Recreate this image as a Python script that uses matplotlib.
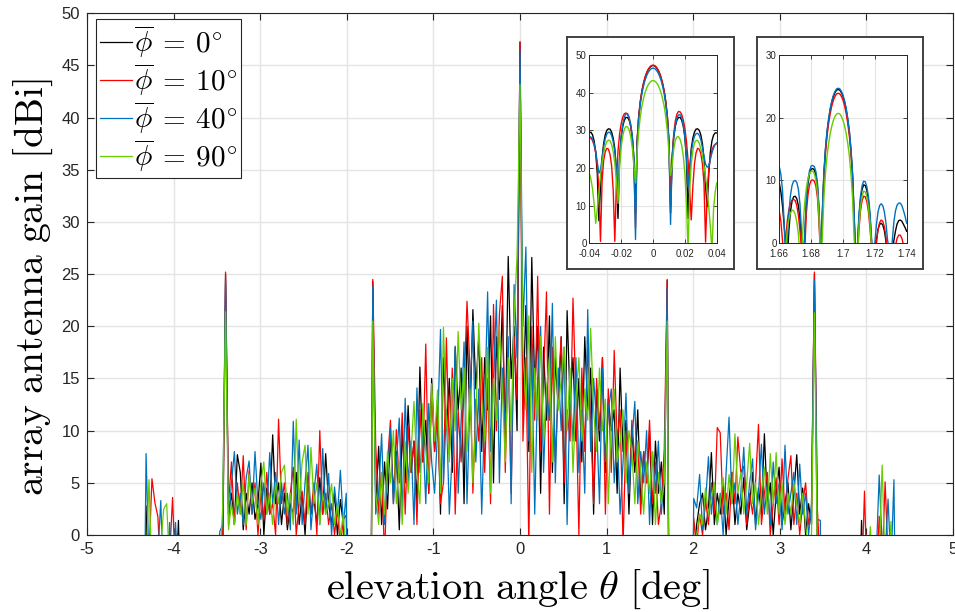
import numpy as np
import matplotlib
matplotlib.use("Agg")
import matplotlib.pyplot as plt

plt.rcParams['mathtext.fontset'] = 'cm'
plt.rcParams['font.family'] = ['Liberation Sans', 'DejaVu Sans']
plt.rcParams['axes.unicode_minus'] = False

# ---------------- data ----------------
series_labels = [r'$\overline{\phi}\:=\:0^{\circ}$', r'$\overline{\phi}\:=\:10^{\circ}$',
                 r'$\overline{\phi}\:=\:40^{\circ}$', r'$\overline{\phi}\:=\:90^{\circ}$']
series_colors = ['#000000', '#FF0000', '#0072BD', '#66CC00']

# main chart: elevation angle samples (deg)
theta_main = np.arange(-128, 129) * 0.034

gain_phi0 = [
    -30, 2.8, -8, -20, -15, -10, -12, -20, -15, -10, -8, -6, 1.4, -10,
    -30, -30, -30, -30, -30, -30, -30, -30, -30, -30, -30, -30,
    -9, -3, 25.0, 2, 4, 1, 7.7, 6.0, 0.5, 4, 2, 5, 1.5, 3, 6.9, 0, 4.5, 2, 9.6, 3,
    5, 1, 4, 0.5, 3, 2, 6, 1, 4, 0, 5, 2, 3.5, 1, 5.5, 2, 7.8, 3, 1, 4, 0, 3.4, 1, -4,
    -30, -30, -30, -30, -30, -30, -30, -30,
    24.3, 3, 8.5, 1, 7, 2.5, 9.5, 4, 8, 0.5,
    10, 5, 12.4, 6, 9, 3, 16.1, 7, 11, 4,
    15, 8, 13, 2, 17, 10, 15, 6, 18, 12,
    16, 3, 20, 11, 21.6, 14, 19, 8, 17, 12,
    21, 5, 19, 13, 22, 9, 26.7, 15, 20, 10,
    47.2,
    12, 22, 8, 26.6, 14, 20, 4, 18, 11, 21,
    6, 17, 12, 19, 3, 21.5, 13, 17, 9, 15,
    7, 19, 12, 16, 2, 14, 9, 17, 6, 13,
    10, 12, 4, 16, 8, 11, 2, 10, 6, 12,
    3, 8, 5, 10, 1, 9, 4, 7, 2, 24.4,
    -30, -30, -30, -30, -30, -30, -30, -30,
    -3, 1, 3, 4.0, 0.5, 2.5, 7.9, 1, 4, 2, 5, 0, 3.5, 6, 1, 4, 2, 5.5, 0.5, 3,
    6, 1, 4.5, 2, 9.7, 3, 5, 0, 4, 6.5, 1, 3, 5, 0.5, 4, 7.7, 2, 4.5, 0, 3, 1, 25.0, -2, -6,
    -30, -30, -30, -30, -30, -30, -30, -30, -30, -30, -30, -30,
    -10, 1.4, -8, -12, -20, -15, -10, -8, -12, -15, -10, -14, -18, -30,
]

gain_phi10 = [
    -25, -6, -2, 5.4, 3.1, 1.8, -4, -7, -3, -2, 3.6, -4, -8, -12,
    -30, -30, -30, -30, -30, -30, -30, -30, -30, -30, -30, -30,
    -9, -2, 25.2, 3, 7.0, 1, 5, 2, 7.6, 0.5, 6.2, 2, 5, 0, 4, 1.5, 6, 2, 3, 0,
    11.1, 3, 5, 1, 4, 6.5, 0, 3, 4.2, 1, 6, 2, 5, 0, 10.0, 2, 4, 1, 3, 0, 2.5, -1, 1.5, 1.9,
    -30, -30, -30, -30, -30, -30, -30, -30,
    24.5, 8.6, 2, 6, -2, 7, 11.0, 3, 10.1, 5,
    11.7, 2, 10.5, 6, 9, 1, 12, 7, 18.3, 4,
    14, 8, 12, 3, 5, 18.9, 8, 16, 2, 12,
    7, 14, 22.4, 16, 4, 13, 9, 17, 6, 15,
    3, 22.1, 10, 21.1, 24.8, 6, 18, 4, 19, 13,
    47.3,
    9, 17, -1, 20, 11, 24.8, 8, 15, 23.3, 2,
    18, 7, 14, 19, 5, 12, 9, 22.7, 13, 0,
    16, 8, 18, 11, 3, 15, 10, 17, 2, 14,
    6, 17.7, 9, 12, -1, 10, 4, 11, 7, 9,
    2, 8, 5, 11.0, 3, 7, 1, 3, 8.3, 24.5,
    -30, -30, -30, -30, -30, -30, -30, -30,
    1.6, -1, 2, 0, 3.5, 1, 5, 2, 10.3, 9.8, 2, 4, 0.5, 6, 3, 9.4, 6.0, 6.6, 1, 4,
    2, 5, 10.6, 1, 4, 6, 0, 3, 5.5, 1, 7.3, 2, 5.4, 7.6, 1, 4, 0, 3, 5, 1, 2.6, 25.2, 2.5, -3,
    -30, -30, -30, -30, -30, -30, -30, -30, -30, -30, -30, -30,
    -12, -5, 4.2, -6, -8, -5, -4, 1.8, -3, 5.1, -2, -6, -10, -25,
]

gain_phi40 = [
    -20, 7.8, -3, -8, -5, -2, 3.3, -6, -4, 1.2, -5, 1.2, -4, -12,
    -30, -30, -30, -30, -30, -30, -30, -30, -30, -30, -30, -30,
    0.3, 1, 24.4, 1, 5, 8.0, 2, 4, 1, 5.5, 7.1, 2, 8.0, 3, 1.5, 5, 2, 7.9, 3, 6,
    1, 5, 2, 4, 0.5, 10.9, 2, 9.1, 1, 5, 8.6, 0.5, 4, 6.8, 1, 8.3, 2, 5.9, 0, 4.6, 2, 6.2, 1, 4.0,
    -30, -30, -30, -30, -30, -30, -30, -30,
    23.8, 2, 4, 9.7, 1, 6, 10.2, 3, 7, 11.2,
    2, 13.1, 5, 9, 1, 14.1, 6, 10, 3, 12.6,
    7, 4, 10, 19.7, 5, 12, 2, 8, 18.1, 4,
    11, 18.5, 3, 13, 20.5, 7, 14, 2, 12, 23.3,
    8, 15, 22.5, 5, 16, 10, 19, 3, 24, 17,
    46.5,
    20, 27.6, 9, 18, 2, 15, 20, 6, 14, 11,
    22.2, 5, 16, 10, 18, 1, 14, 9, 17, 6,
    12, 4, 21.6, 8, 15, 11, 3, 16, 7, 12,
    14, 5, 10, 2, 7, 13.6, 4, 9, 12.8, 3,
    8, 5, 10, 1, 8, 4, 9, 2, 6, 23.7,
    -30, -30, -30, -30, -30, -30, -30, -30,
    3.5, 2.6, 5.8, 0.5, 3, 7.5, 2, 5, 1, 4, 0, 6, 11.3, 3, 5, 1, 4, 8.4, 2, 5,
    7.3, 0.5, 4, 8.7, 2, 5, 1, 7.0, 3, 5, 0.5, 8.6, 2, 4, 6, 1, 6.8, 2, 4, 0, 3, 24.4, 1.5, 1.4,
    -30, -30, -30, -30, -30, -30, -30, -30, -30, -30, -30, -30,
    -14, -6, -4, -8, -6, -3, -2, 5.75, -1, -2, 3.45, -3, 5.3, -20,
]

gain_phi90 = [
    -25, -3, 5.3, -4, -6, -2, -1, 2.5, 3.0, -3, -8, -5, -10, -15,
    -30, -30, -30, -30, -30, -30, -30, -30, -30, -30, -30, -30,
    -3, 2.5, 21.4, 0.5, 3, 1, 4, 2, 5, 1, 5.8, 3, 4.5, 1, 5, 7.0, 2, 4, 1, 5,
    3, 6, 6.7, 2, 4, 1, 11.1, 3, 7, 8.6, 2, 8.4, 3, 5, 1, 4, 2, 3, 4.9, 1, 3, 0, 2, -3,
    -30, -30, -30, -30, -30, -30, -30, -30,
    20.5, 4, 1, 6, 2, 8, 5, 10, 3, 7,
    1, 9, 4, 8, 12.8, 6, 3, 12.6, 8, 5,
    14.5, 9, 13.9, 4, 19.9, 11, 7, 15, 10, 19.5,
    12, 16, 8, 14, 5, 11, 20.3, 13, 9, 18,
    4, 15, 11, 20, 14, 7, 17, 10, 21, 26.8,
    43.2,
    18, 12, 21, 6, 16, 11, 19, 9, 14, 17,
    7, 19, 12, 15, 18, 10, 16, 6, 13, 17,
    9, 14, 11, 19.8, 12, 8, 16, 10, 13, 3,
    11, 14, 7, 9, 12, 5, 10, 8, 3, 9,
    6, 2, 7, 4, 8, 1, 6, 3, 5, 20.5,
    -30, -30, -30, -30, -30, -30, -30, -30,
    -3, 0, 2, 1, 4.5, 2, 3.5, 5, 1, 3, 5.5, 2, 5.8, 3, 9.7, 4, 6, 2, 5, 8.8,
    3, 5, 1, 4, 6.5, 2, 7.8, 3, 7.9, 2, 5, 1, 4, 2, 5, 3, 1, 4.0, 1, -2, 0, 21.3, -2, -8,
    -30, -30, -30, -30, -30, -30, -30, -30, -30, -30, -30, -30,
    -15, -10, -6, -3, 0.8, -5, -4, -2, 6.7, -3, -4, 1.3, -5, -25,
]

# inset 1: zoom around 0 deg
theta_zoom0 = np.linspace(-0.04, 0.04, 81)
zoom0_phi0 = [
    29.3, 29.5, 28.8, 27.2, 24.2, 18.5, 6, 15, 22.5, 26.5,
    28.8, 30.0, 30.4, 30.3, 29.5, 27.9, 25.1, 19.5, 6.6, 22.5,
    28.2, 31.1, 32.7, 33.4, 33.4, 32.7, 31.1, 28.2, 22.5, 8,
    27.1, 33.7, 37.6, 40.4, 42.4, 44.0, 45.2, 46.1, 46.7, 47.1,
    47.2,
    47.1, 46.7, 46.1, 45.2, 44.0, 42.4, 40.4, 37.6, 33.7, 27.1,
    8, 22.5, 28.2, 31.1, 32.7, 33.4, 33.4, 32.7, 31.1, 28.2,
    22.5, 6.6, 19.5, 25.1, 27.9, 29.5, 30.3, 30.4, 30.0, 28.8,
    26.5, 22.5, 15, 9.7, 18.5, 24.2, 27.2, 28.7, 29.3, 29.3,
]
zoom0_phi10 = [
    28.0, 27.9, 27.3, 26.0, 24.0, 20.5, 14, 0.5, 16.5, 22,
    24.3, 25.2, 25.0, 23.6, 20.5, 14, 0.5, 16, 24.5, 29,
    31.8, 33.5, 34.4, 34.6, 34.3, 33.2, 31, 27.5, 21, 4,
    27, 33.7, 37.6, 40.4, 42.5, 44.1, 45.3, 46.2, 46.8, 47.2,
    47.3,
    47.2, 46.8, 46.2, 45.3, 44.1, 42.5, 40.4, 37.6, 33.7, 27,
    10, 23, 29, 32.5, 34.3, 35.0, 34.9, 34.2, 32.7, 30.5,
    27, 22, 14, 6.2, 15, 21, 24, 25.2, 25.0, 23.8,
    21.2, 16, 0.3, 13, 19.5, 22.8, 24.7, 25.8, 26.3, 26.4,
]
zoom0_phi40 = [
    28.3, 28.2, 27.7, 26.5, 24.5, 21.5, 18.6, 19.5, 22.5, 25.6,
    27.8, 29.0, 29.5, 29.4, 28.6, 27.0, 24.3, 19.5, 14, 22.5,
    28.3, 31.6, 33.5, 34.4, 34.4, 33.5, 31.6, 28.3, 22.5, 1,
    26.5, 33.0, 36.9, 39.7, 41.7, 43.3, 44.5, 45.4, 46.0, 46.4,
    46.5,
    46.4, 46.0, 45.4, 44.5, 43.3, 41.7, 39.7, 36.9, 33.0, 26.5,
    5, 22.5, 28.2, 31.4, 33.3, 34.1, 34.1, 33.3, 31.4, 28.2,
    22.5, 15, 19.5, 24.2, 26.8, 28.4, 29.1, 29.2, 28.7, 27.5,
    25.5, 23, 21, 20.2, 20.5, 22.3, 24, 25.3, 26.2, 26.7,
]
zoom0_phi90 = [
    18.6, 17, 14.5, 10.5, 5.3, 9, 13.5, 17.8, 21.3, 24.0,
    25.9, 27.0, 27.4, 27.2, 26.2, 24.3, 21.3, 16.5, 10.6, 20.5,
    25.6, 28.6, 30.3, 31.0, 30.9, 30.1, 28.3, 25.3, 20.5, 16,
    24, 29.8, 33.6, 36.4, 38.4, 40.0, 41.2, 42.1, 42.7, 43.1,
    43.2,
    43.1, 42.7, 42.1, 41.2, 40.0, 38.4, 36.4, 33.6, 29.8, 24,
    18, 20.5, 25, 27.3, 28.2, 28.3, 27.6, 26, 23.2, 18.5,
    10.5, -2, 14, 21, 24.6, 26.6, 27.3, 27.3, 26.6, 25.2,
    23.2, 20.6, 17.5, 13.8, 9.5, 4.5, -2, 9, 13.5, 16,
]

# inset 2: zoom around 1.7 deg
theta_zoom17 = np.linspace(1.66, 1.74, 81)
zoom17_phi0 = [
    9.6, 8.2, 6, 3, 0, -3, 2, 5, 6.7, 7.4,
    7.5, 7.1, 6, 3.8, 0, -3, 1, 6.6, 9.5, 11.1,
    11.8, 11.9, 11.7, 10.9, 9.0, 5, -3, 4.5, 11.0, 14.9,
    17.7, 19.7, 21.3, 22.5, 23.4, 24.0, 24.4, 24.5, 24.4, 24.0,
    23.4, 22.5, 21.3, 19.7, 17.7, 14.9, 11.0, 4.5, -3, -1,
    4, 7, 8.6, 9.3, 9.2, 8.4, 6.8, 4.2, 0, -3,
    -2, 0.5, 2.2, 3.0, 3.2, 2.9, 2.0, 0.3, -3, -3,
    -3, -1, 0.5, 2, 3.1, 3.6, 3.7, 3.5, 3.0, 2.5,
    1.9,
]
zoom17_phi10 = [
    5.1, 3.5, 0.5, -3, 0.5, 3.5, 5.3, 6.3, 6.9, 7.0,
    6.8, 6.0, 4.5, 2, -1, -3, -1, 4.8, 7.7, 9.3,
    10.0, 10.1, 9.9, 9.1, 7.2, 3, -3, 3.9, 10.4, 14.3,
    17.1, 19.1, 20.7, 21.9, 22.8, 23.4, 23.8, 23.9, 23.8, 23.4,
    22.8, 21.9, 20.7, 19.1, 17.1, 14.3, 10.4, 3.9, -3, -3,
    2, 5.2, 6.8, 7.5, 7.4, 6.6, 5.0, 2.3, -1, -3,
    -3, 0, 2.2, 3.3, 3.7, 3.5, 2.6, 1, -2, -3,
    -3, -3, -2, -0.3, 0.8, 1.3, 1.3, 0.8, -0.3, -2,
    -3,
]
zoom17_phi40 = [
    12.2, 11.0, 8.5, 3.5, -3, 0, 4.7, 7.6, 9.2, 9.9,
    10.0, 9.7, 8.6, 6.2, 1.5, -3, 1.4, 7.1, 10.0, 11.6,
    12.3, 12.4, 12.2, 11.4, 9.5, 5.5, -3, 4.7, 11.2, 15.1,
    17.9, 19.9, 21.5, 22.7, 23.6, 24.2, 24.6, 24.7, 24.6, 24.2,
    23.6, 22.7, 21.5, 19.9, 17.9, 15.1, 11.2, 4.7, -3, -1,
    4.5, 7.5, 9.2, 9.9, 9.8, 9.0, 7.4, 4.8, 0.5, -3,
    0, 3, 5, 6.0, 6.3, 6.0, 5.0, 3.2, 0.5, -1,
    -3, 0.5, 3.5, 5.2, 6.1, 6.4, 6.4, 6.0, 5.2, 4.3,
    3.2,
]
zoom17_phi90 = [
    -3, -3, -3, -3, -1, 2, 3.8, 4.8, 5.3, 5.2,
    4.6, 3.4, 1.5, -2, -2, 3, 6.5, 8.8, 10.3, 11.1,
    11.5, 11.5, 11.1, 10.0, 8, 4, -3, 0.7, 7.2, 11.1,
    13.9, 15.9, 17.5, 18.7, 19.6, 20.2, 20.6, 20.7, 20.6, 20.2,
    19.6, 18.7, 17.5, 15.9, 13.9, 11.1, 7.2, 0.7, -3, -3,
    2.5, 5.8, 7.5, 8.3, 8.2, 7.4, 5.7, 3, -1, -3,
    -3, -3, -3, -3, -3, -3, -3, -3, -3, -3,
    -3, -3, -3, -3, -3, -3, -3, -3, -3, -3,
    -3,
]

main_xticks = [-5, -4, -3, -2, -1, 0, 1, 2, 3, 4, 5]
main_yticks = [0, 5, 10, 15, 20, 25, 30, 35, 40, 45, 50]
zoom0_xticks = [-0.04, -0.02, 0, 0.02, 0.04]
zoom0_xticklabels = ['-0.04', '-0.02', '0', '0.02', '0.04']
zoom0_yticks = [0, 10, 20, 30, 40, 50]
zoom17_xticks = [1.66, 1.68, 1.7, 1.72, 1.74]
zoom17_xticklabels = ['1.66', '1.68', '1.7', '1.72', '1.74']
zoom17_yticks = [0, 10, 20, 30]

# ---------------- figure ----------------
AX_COL = '#262626'
GRID_COL = '#E4E4E4'

fig = plt.figure(figsize=(9.55, 6.12), dpi=100)
ax = fig.add_axes([0.0911, 0.1258, 0.9068, 0.8525])

main_series = [gain_phi0, gain_phi10, gain_phi40, gain_phi90]
for vals, col, lab in zip(main_series, series_colors, series_labels):
    ax.plot(theta_main, vals, color=col, lw=0.9, label=lab)

ax.set_xlim(-5, 5)
ax.set_ylim(0, 50)
ax.set_xticks(main_xticks)
ax.set_xticklabels([str(v) for v in main_xticks])
ax.set_yticks(main_yticks)
ax.set_yticklabels([str(v) for v in main_yticks])
ax.grid(True, color=GRID_COL, lw=1.0)
ax.set_axisbelow(True)
ax.tick_params(direction='in', top=True, right=True, length=5, width=0.8,
               labelsize=12, colors=AX_COL, pad=5)
for sp in ax.spines.values():
    sp.set_color(AX_COL)
    sp.set_linewidth(0.8)

ax.set_xlabel(r'$\mathrm{elevation\ angle}\ \theta\ \mathrm{[deg]}$', fontsize=29)
ax.xaxis.set_label_coords(0.4977, -0.062)
ax.set_ylabel(r'$\mathrm{array\ antenna\ gain\ [dBi]}$', fontsize=28.5)
ax.yaxis.set_label_coords(-0.037, 0.474)

leg = ax.legend(loc='upper left', bbox_to_anchor=(0.0104, 0.9885), borderaxespad=0,
                fontsize=21, handlelength=1.1, handletextpad=0.05, labelspacing=0.05,
                borderpad=0.15, fancybox=False, framealpha=1)
leg.get_frame().set_edgecolor(AX_COL)
leg.get_frame().set_linewidth(0.8)


def make_inset(box_rect, ax_rect, x, ys, xlim, ylim, xticks, xticklabels, yticks):
    box = fig.add_axes(box_rect)
    box.set_xticks([])
    box.set_yticks([])
    box.set_facecolor('white')
    for sp in box.spines.values():
        sp.set_color('#404040')
        sp.set_linewidth(1.4)
    ins = fig.add_axes(ax_rect)
    for vals, col in zip(ys, series_colors):
        ins.plot(x, vals, color=col, lw=1.0)
    ins.set_xlim(*xlim)
    ins.set_ylim(*ylim)
    ins.set_xticks(xticks)
    ins.set_xticklabels(xticklabels)
    ins.set_yticks(yticks)
    ins.set_yticklabels([str(v) for v in yticks])
    ins.grid(True, color=GRID_COL, lw=0.8)
    ins.set_axisbelow(True)
    ins.tick_params(direction='in', top=True, right=True, length=3, width=0.6,
                    labelsize=7, colors=AX_COL)
    ins.tick_params(axis='x', pad=4)
    ins.tick_params(axis='y', pad=2)
    for sp in ins.spines.values():
        sp.set_color(AX_COL)
        sp.set_linewidth(0.7)
    return ins


make_inset([0.5940, 0.5605, 0.1746, 0.3786], [0.6171, 0.6025, 0.1334, 0.3077],
           theta_zoom0, [zoom0_phi0, zoom0_phi10, zoom0_phi40, zoom0_phi90],
           (-0.04, 0.04), (0, 50), zoom0_xticks, zoom0_xticklabels, zoom0_yticks)
make_inset([0.7923, 0.5605, 0.1738, 0.3786], [0.8160, 0.6025, 0.1334, 0.3077],
           theta_zoom17, [zoom17_phi0, zoom17_phi10, zoom17_phi40, zoom17_phi90],
           (1.66, 1.74), (0, 30), zoom17_xticks, zoom17_xticklabels, zoom17_yticks)

fig.savefig('out.png', dpi=100)
